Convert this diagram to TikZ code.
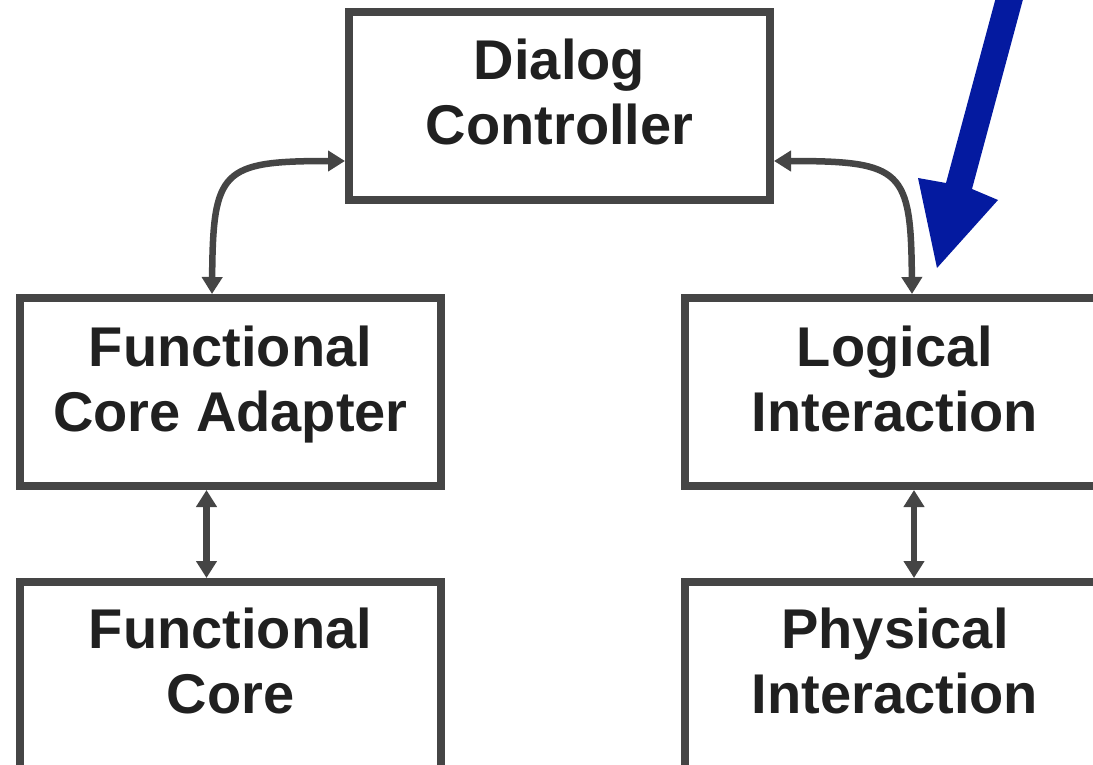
\documentclass[tikz,border=0pt]{standalone}
\usepackage{fontspec}
\setmainfont{Liberation Sans}
\usetikzlibrary{arrows.meta,calc}
\definecolor{edge}{RGB}{69,69,69}
\definecolor{ink}{RGB}{32,32,32}
\definecolor{hint}{RGB}{4,26,160}
\tikzset{
  box/.style={draw=edge, line width=8pt, fill=none, minimum width=421pt, minimum height=188pt, inner sep=0pt},
  lbl/.style={text=ink, font=\fontsize{56}{65}\selectfont\bfseries, align=center, inner sep=0pt, anchor=base},
  link/.style={draw=edge, line width=6.5pt, {Triangle[width=20pt,length=17pt]}-{Triangle[width=20pt,length=17pt]}},
}
\begin{document}
\begin{tikzpicture}[x=1pt,y=-1pt]
\useasboundingbox (0,0) rectangle (1093,765);
\clip (0,0) rectangle (1093,765);
% boxes
\node[box] (dc) at (559.5,106) {};
\node[box] (fca) at (230.5,392) {};
\node[box] (li) at (895,392) {};
\node[box] (fc) at (230.5,676) {};
\node[box] (pi) at (895,676) {};
% labels
\node[lbl] (dct) at ([yshift=-39pt]dc.center) {Dialog\\Controller};
\node[lbl] (fcat) at ([yshift=-39pt]fca.center) {Functional\\Core Adapter};
\node[lbl] (lit) at ([yshift=-39pt]li.center) {Logical\\Interaction};
\node[lbl] (fct) at ([yshift=-37pt]fc.center) {Functional\\Core};
\node[lbl] (pit) at ([yshift=-37pt]pi.center) {Physical\\Interaction};
% connectors
\coordinate (dcl) at ([yshift=-55pt]dc.west);
\coordinate (dcr) at ([yshift=-55pt]dc.east);
\coordinate (fcan) at ([xshift=-18.5pt]fca.north);
\coordinate (lin) at ([xshift=17pt]li.north);
\draw[link] (fcan) .. controls ($(fcan)+(1,-124)$) and ($(dcl)+(-124,0)$) .. (dcl);
\draw[link] (lin) .. controls ($(lin)+(-1,-124)$) and ($(dcr)+(129,0)$) .. (dcr);
\draw[link] ([xshift=-24pt]fca.south) -- ([xshift=-24pt]fc.north);
\draw[link] ([xshift=19pt]li.south) -- ([xshift=19pt]pi.north);
% blue pointer
\coordinate (bt) at (937,268);
\fill[hint] (bt) -- (998,200) -- (972,189) -- (1029,-23) -- (1003,-29) -- (946,183) -- (918,178) -- cycle;
\end{tikzpicture}
\end{document}
